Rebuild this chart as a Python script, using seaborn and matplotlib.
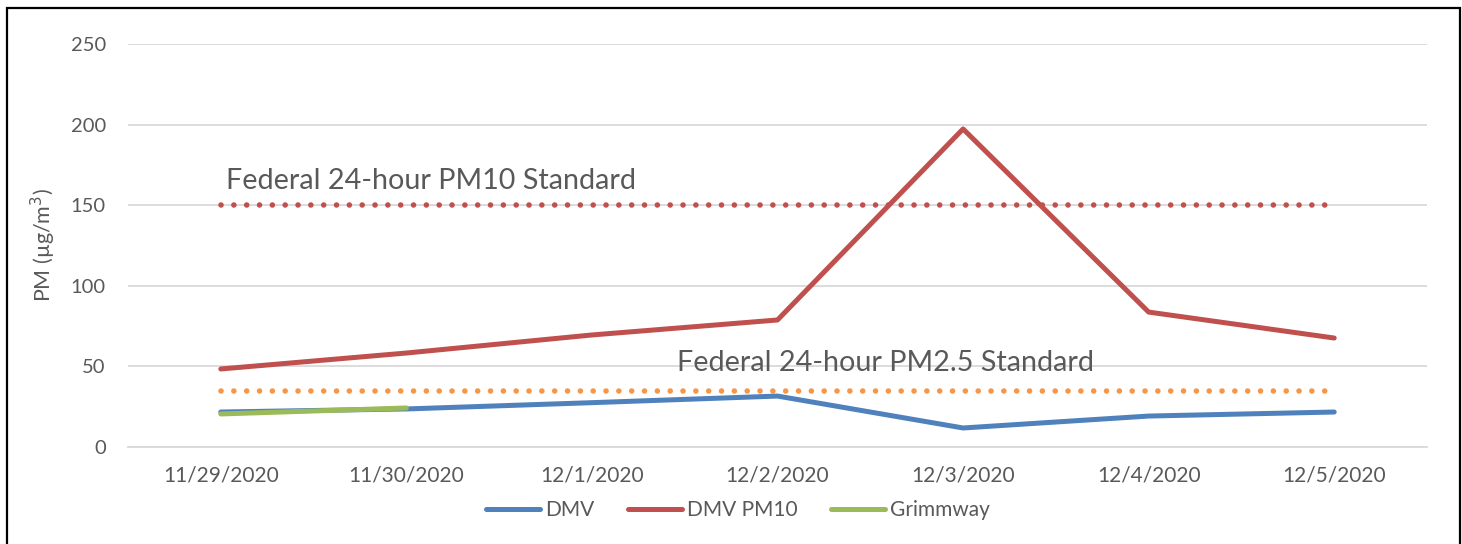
import matplotlib
matplotlib.use('Agg')
import matplotlib.pyplot as plt
import matplotlib.patches as patches
import pandas as pd
import seaborn as sns

# Data
dates = ['11/29/2020', '11/30/2020', '12/1/2020', '12/2/2020', '12/3/2020', '12/4/2020', '12/5/2020']
dmv = [21.7, 23.6, 27.5, 31.6, 11.8, 19.2, 21.7]
dmv_pm10 = [48.4, 58.3, 69.5, 78.8, 197.3, 83.7, 67.6]
grimmway = [20.5, 24.2]
pm10_std = 150
pm25_std = 35

sns.set_theme(style='white')
plt.rcParams['font.family'] = ['Lato', 'DejaVu Sans']

# long format for seaborn
df = pd.concat([
    pd.DataFrame({'Date': dates, 'PM': dmv, 'Series': 'DMV'}),
    pd.DataFrame({'Date': dates, 'PM': dmv_pm10, 'Series': 'DMV PM10'}),
    pd.DataFrame({'Date': dates[:len(grimmway)], 'PM': grimmway, 'Series': 'Grimmway'}),
])
colors = {'DMV': '#4f81bd', 'DMV PM10': '#c0504d', 'Grimmway': '#9bbb59'}
grey = '#595959'

fig = plt.figure(figsize=(14.62, 5.44), dpi=100)
ax = fig.add_axes([128 / 1462, 1 - 447 / 544, (1427 - 128) / 1462, (447 - 44) / 544])

# standard lines (dotted)
ax.hlines(pm10_std, 0, len(dates) - 1, colors='#c0504d', linewidth=4.0,
          linestyles=(0, (0.01, 2.3)), zorder=1)
ax.hlines(pm25_std, 0, len(dates) - 1, colors='#f79646', linewidth=4.0,
          linestyles=(0, (0.01, 2.3)), zorder=1)
for c in ax.collections:
    c.set_capstyle('round')

sns.lineplot(data=df, x='Date', y='PM', hue='Series', palette=colors, linewidth=3.6,
             sort=False, ax=ax, zorder=3, legend=True)
for ln in ax.lines:
    ln.set_solid_capstyle('round')

ax.text(0.03, 157, 'Federal 24-hour PM10 Standard', fontsize=20.7, color=grey, va='bottom')
ax.text(2.46, 44, 'Federal 24-hour PM2.5 Standard', fontsize=20.7, color=grey, va='bottom')

ax.set_xlim(-0.5, len(dates) - 0.5)
ax.set_ylim(0, 250)
ax.set_yticks(range(0, 251, 50))
ax.grid(axis='y', color='#d9d9d9', linewidth=1.3)
ax.set_axisbelow(True)
for s in ['top', 'right', 'left']:
    ax.spines[s].set_visible(False)
ax.spines['bottom'].set_color('#d9d9d9')
ax.spines['bottom'].set_linewidth(1.3)

ax.set_xticks(range(len(dates)))
ax.set_xticklabels(dates)
ax.set_xticks([i - 0.5 for i in range(len(dates) + 1)], minor=True)
ax.tick_params(axis='x', which='major', length=0, pad=13, labelsize=15, labelcolor=grey)
ax.tick_params(axis='x', which='minor', length=7, width=1.3, color='#d9d9d9', direction='out')
ax.tick_params(axis='y', length=0, pad=16, labelsize=14.5, labelcolor=grey)
ax.set_xlabel('')
ax.set_ylabel('PM (µg/m$^3$)', fontsize=15.5, color=grey)
ax.yaxis.set_label_coords((58 - 128) / (1427 - 128), (447 - 245) / (447 - 44))

handles, labels = ax.get_legend_handles_labels()
ax.get_legend().remove()
leg = fig.legend(handles, labels, loc='center', bbox_to_anchor=(738 / 1462, 1 - 510 / 544),
                 ncol=3, frameon=False, fontsize=15, handlelength=2.6, handletextpad=0.25,
                 columnspacing=1.6)
for t in leg.get_texts():
    t.set_color(grey)
for h in leg.get_lines():
    h.set_linewidth(3.6)
    h.set_solid_capstyle('round')

# outer frame
fig.patches.append(patches.Rectangle((7 / 1462, -0.1), (1460 - 7) / 1462, 1.1 - 8 / 544,
                                     transform=fig.transFigure, fill=False,
                                     edgecolor='black', linewidth=1.6))

fig.savefig('out.png', dpi=100)
